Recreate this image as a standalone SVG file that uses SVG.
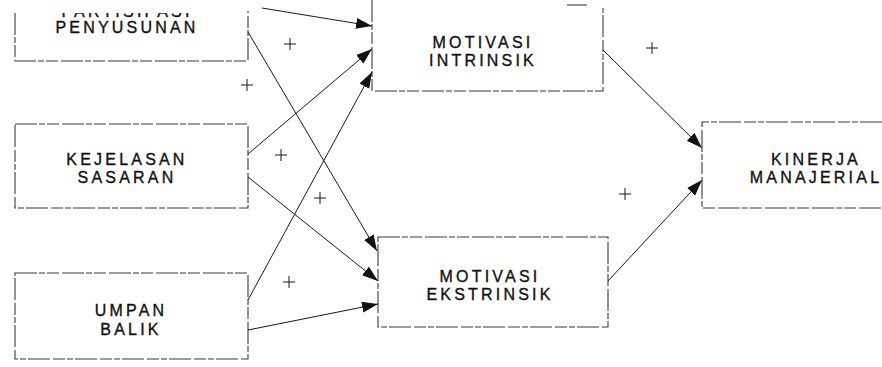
<svg xmlns="http://www.w3.org/2000/svg" width="882" height="367" viewBox="0 0 882 367">
<style>
.box{fill:none;stroke:#3a3a3a;stroke-width:1.1;stroke-dasharray:22 2 6 2 12 3}
.lbl{font-family:"Liberation Sans",Arial,sans-serif;font-size:16px;letter-spacing:3.2px;fill:#111;stroke:#111;stroke-width:0.35;text-anchor:middle}
.conn line{stroke:#1a1a1a;stroke-width:1;marker-end:url(#ah)}
.plus{stroke:#1a1a1a;stroke-width:1;fill:none}
</style>
<defs>
<marker id="ah" markerUnits="userSpaceOnUse" markerWidth="17" markerHeight="12" refX="16" refY="5.5" orient="auto">
<path d="M0,0 L16,5.5 L0,11 Z" fill="#111"/>
</marker>
<clipPath id="topcut"><rect x="0" y="13" width="300" height="60"/></clipPath>
</defs>
<rect width="882" height="367" fill="#fff"/>

<g id="partisipasi">
<path class="box" d="M15,13 V61 H248 V11"/>
<text class="lbl" x="127" y="17" clip-path="url(#topcut)">PARTISIPASI</text>
<text class="lbl" x="127" y="33">PENYUSUNAN</text>
</g>

<g id="kejelasan">
<rect class="box" x="15" y="124" width="233" height="84"/>
<text class="lbl" x="127" y="165">KEJELASAN</text>
<text class="lbl" x="127" y="183">SASARAN</text>
</g>

<g id="umpan">
<rect class="box" x="15" y="273" width="233" height="86"/>
<text class="lbl" x="131" y="316">UMPAN</text>
<text class="lbl" x="131" y="335">BALIK</text>
</g>

<g id="intrinsik">
<path class="box" d="M372,0 V91 H603 V8"/>
<path class="box" d="M567,5 H587"/>
<text class="lbl" x="483" y="48">MOTIVASI</text>
<text class="lbl" x="483" y="66">INTRINSIK</text>
</g>

<g id="ekstrinsik">
<rect class="box" x="378" y="237" width="230" height="90"/>
<text class="lbl" x="490" y="282">MOTIVASI</text>
<text class="lbl" x="490" y="300">EKSTRINSIK</text>
</g>

<g id="kinerja">
<path class="box" d="M882,122 H702 V208 H882"/>
<text class="lbl" x="816" y="165">KINERJA</text>
<text class="lbl" x="816" y="183">MANAJERIAL</text>
</g>

<g id="connectors" class="conn">
<line x1="262" y1="8" x2="372" y2="26"/>
<line x1="248" y1="32" x2="377" y2="251"/>
<line x1="248" y1="154" x2="372" y2="49"/>
<line x1="248" y1="177" x2="378" y2="281"/>
<line x1="248" y1="300" x2="372" y2="72"/>
<line x1="248" y1="330" x2="378" y2="304"/>
<line x1="603" y1="50" x2="702" y2="148"/>
<line x1="608" y1="281" x2="702" y2="180"/>
</g>

<g id="signs" class="plus">
<path d="M284,44 H296 M290,38 V50"/>
<path d="M241,85 H253 M247,79 V91"/>
<path d="M275,155 H287 M281,149 V161"/>
<path d="M314,198 H326 M320,192 V204"/>
<path d="M283,282 H295 M289,276 V288"/>
<path d="M646,48 H658 M652,42 V54"/>
<path d="M619,194 H631 M625,188 V200"/>
</g>
</svg>
